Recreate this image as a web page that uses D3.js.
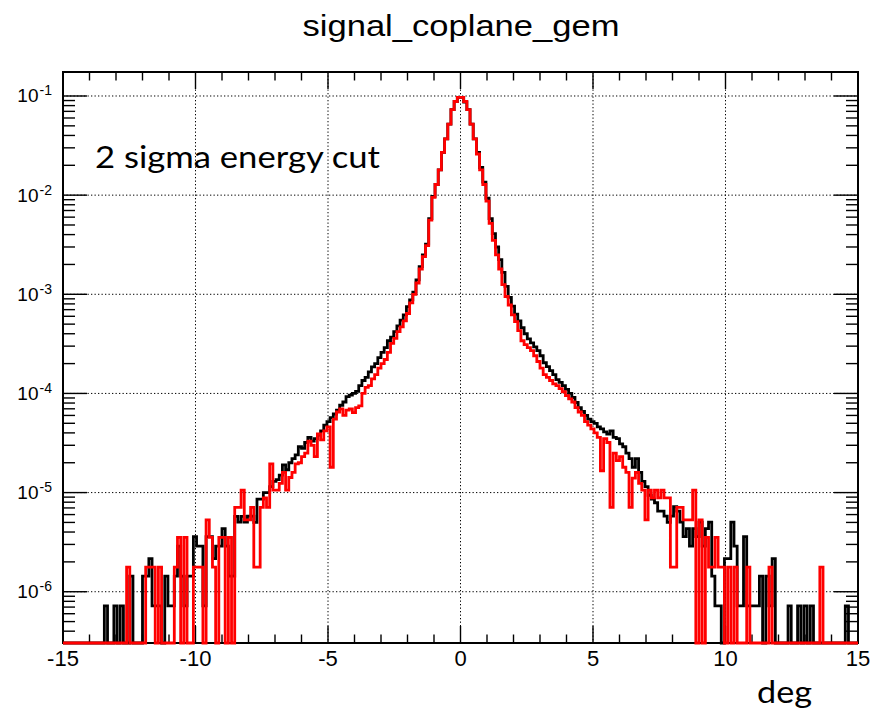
<!DOCTYPE html>
<html><head><meta charset="utf-8">
<script src="https://cdn.jsdelivr.net/npm/d3@7"></script>
<style>body{margin:0;background:#fff}svg{display:block}</style>
</head><body><svg id="c" width="888" height="715"></svg>
<script>
// ---- data ----
const title = "signal_coplane_gem";
const xTitle = "deg";
const note = "2 sigma energy cut";
const xDomain = [-15, 15];
const nBins = 250;
const yDomain = [3.04e-7, 0.1746];
const xMajorTicks = [-15, -10, -5, 0, 5, 10, 15];
const xTickLabels = ["-15", "-10", "-5", "0", "5", "10", "15"];
const xGrid = [-10, -5, 0, 5, 10];
const yDecadeExps = [-6, -5, -4, -3, -2, -1];

const blackValues = [
0,0,0,0,0,0,0,0,0,0,
0,0,0,7.2e-7,0,0,7.2e-7,0,7.2e-7,0,
0,1.44e-6,0,0,0,1.44e-6,1.44e-6,2.16e-6,7.2e-7,7.2e-7,
7.2e-7,0,1.44e-6,7.2e-7,7.2e-7,1.44e-6,2.88e-6,1.44e-6,7.2e-7,1.44e-6,
1.44e-6,3.6e-6,2.88e-6,2.88e-6,7.2e-7,3.6e-6,3.6e-6,2.16e-6,2.88e-6,2.88e-6,
4.32e-6,2.88e-6,1.44e-6,1.44e-6,5.76e-6,5.04e-6,5.76e-6,5.04e-6,5.8e-6,5.8e-6,
5.0e-6,8.6e-6,8.6e-6,1.0e-5,1.0e-5,1.15e-5,1.3e-5,1.35e-5,1.5e-5,1.9e-5,
1.7e-5,2.0e-5,2.2e-5,2.4e-5,2.9e-5,2.8e-5,3.2e-5,3.6e-5,3.3e-5,3.5e-5,
3.8e-5,4.2e-5,4.8e-5,5.2e-5,5.7e-5,6.2e-5,6.8e-5,7.6e-5,8.2e-5,9.3e-5,
9.6e-5,1.0e-4,1.05e-4,1.2e-4,1.35e-4,1.45e-4,1.65e-4,1.85e-4,2.0e-4,2.3e-4,
2.6e-4,2.9e-4,3.4e-4,3.7e-4,4.2e-4,4.8e-4,5.5e-4,6.2e-4,7.5e-4,8.8e-4,
1.05e-3,1.4e-3,1.9e-3,2.5e-3,3.2e-3,5.8e-3,9.7e-3,1.28e-2,1.8e-2,2.7e-2,
3.7e-2,5.2e-2,7.3e-2,8.8e-2,9.7e-2,9.7e-2,8.7e-2,7.3e-2,5.2e-2,3.7e-2,
2.7e-2,1.9e-2,1.35e-2,9.3e-3,5.8e-3,4.1e-3,3.0e-3,2.24e-3,1.66e-3,1.2e-3,
9.3e-4,7.6e-4,6.3e-4,5.4e-4,4.6e-4,4.0e-4,3.55e-4,3.24e-4,2.95e-4,2.7e-4,
2.4e-4,2.04e-4,1.86e-4,1.7e-4,1.55e-4,1.38e-4,1.29e-4,1.2e-4,1.1e-4,1.0e-4,
9.1e-5,8.1e-5,7.2e-5,6.6e-5,6.0e-5,5.5e-5,5.2e-5,5.0e-5,4.6e-5,4.4e-5,
4.1e-5,3.9e-5,4.2e-5,3.6e-5,3.5e-5,3.1e-5,2.9e-5,2.5e-5,2.2e-5,1.8e-5,
2.2e-5,1.6e-5,1.3e-5,1.15e-5,9.4e-6,8.6e-6,7.9e-6,6.5e-6,6.5e-6,5.8e-6,
5.0e-6,5.8e-6,7.2e-6,6.5e-6,5.04e-6,3.6e-6,4.32e-6,2.88e-6,4.32e-6,3.6e-6,
5.04e-6,2.88e-6,4.32e-6,5.04e-6,1.44e-6,7.2e-7,7.2e-7,0,2.16e-6,2.16e-6,
5.04e-6,2.88e-6,7.2e-7,7.2e-7,3.6e-6,7.2e-7,7.2e-7,7.2e-7,7.2e-7,1.44e-6,
0,1.44e-6,7.2e-7,2.16e-6,0,0,0,0,7.2e-7,0,
0,7.2e-7,0,7.2e-7,0,7.2e-7,0,0,0,0,
0,0,0,0,0,0,7.2e-7,0,0,0
];

const redValues = [
0,0,0,0,0,0,0,0,0,0,
0,0,0,0,0,0,0,0,0,0,
1.77e-6,0,0,0,0,0,1.77e-6,1.77e-6,1.77e-6,0,
1.77e-6,0,0,0,0,1.77e-6,3.54e-6,0,3.54e-6,0,
0,1.77e-6,1.77e-6,1.77e-6,0,5.31e-6,3.54e-6,1.77e-6,0,3.54e-6,
3.54e-6,0,3.54e-6,0,7.08e-6,7.08e-6,1.06e-5,5.31e-6,5.31e-6,7.08e-6,
1.77e-6,1.77e-6,7.08e-6,8.85e-6,7.08e-6,1.95e-5,1.06e-5,1.06e-5,1.24e-5,1.6e-5,
1.06e-5,1.42e-5,1.6e-5,1.95e-5,2.0e-5,2.3e-5,2.5e-5,3.3e-5,3.0e-5,2.3e-5,
3.9e-5,3.4e-5,4.2e-5,4.6e-5,1.8e-5,5.5e-5,6.5e-5,7.0e-5,6.0e-5,6.8e-5,
7.0e-5,6.4e-5,7.2e-5,7.5e-5,1.0e-4,1.15e-4,1.2e-4,1.4e-4,1.55e-4,1.8e-4,
2.0e-4,2.2e-4,2.6e-4,3.2e-4,3.6e-4,4.2e-4,4.7e-4,5.4e-4,6.4e-4,8.2e-4,
1.0e-3,1.3e-3,1.8e-3,2.4e-3,3.1e-3,5.6e-3,9.5e-3,1.28e-2,1.8e-2,2.7e-2,
3.7e-2,5.2e-2,7.3e-2,8.8e-2,9.7e-2,9.7e-2,8.8e-2,7.3e-2,5.2e-2,3.7e-2,
2.6e-2,1.8e-2,1.28e-2,8.7e-3,5.2e-3,3.5e-3,2.5e-3,1.8e-3,1.25e-3,9.5e-4,
7.8e-4,6.2e-4,5.3e-4,4.3e-4,3.4e-4,3.1e-4,2.9e-4,2.7e-4,2.4e-4,2.1e-4,
1.8e-4,1.55e-4,1.45e-4,1.35e-4,1.25e-4,1.2e-4,1.12e-4,1.04e-4,9.5e-5,8.8e-5,
8.2e-5,7.2e-5,6.5e-5,6.0e-5,5.2e-5,4.8e-5,4.4e-5,4.0e-5,3.6e-5,1.66e-5,
3.5e-5,3.2e-5,7.1e-6,2.5e-5,2.1e-5,2.3e-5,1.8e-5,1.6e-5,7.1e-6,1.4e-5,
1.6e-5,1.24e-5,1.06e-5,5.31e-6,1.06e-5,8.85e-6,1.06e-5,8.85e-6,1.06e-5,8.85e-6,
8.85e-6,1.77e-6,1.77e-6,7.08e-6,7.08e-6,5.31e-6,5.31e-6,5.31e-6,1.06e-5,0,
5.31e-6,0,3.54e-6,1.77e-6,1.77e-6,3.54e-6,1.77e-6,1.77e-6,0,1.77e-6,
0,1.77e-6,0,0,0,1.77e-6,0,0,0,0,
0,0,1.77e-6,0,0,0,0,0,0,0,
0,0,0,0,0,0,0,0,1.77e-6,0,
0,0,0,0,0,0,0,0,0,0
];

// ---- layout ----
const W = 888, H = 715;
const frame = {left: 63, right: 858, top: 72, bottom: 643};
const svg = d3.select("#c");
svg.append("rect").attr("width", W).attr("height", H).attr("fill", "#fff");

const x = d3.scaleLinear().domain(xDomain).range([frame.left, frame.right]);
const y = d3.scaleLog().domain(yDomain).range([frame.bottom, frame.top]);
const binW = (xDomain[1] - xDomain[0]) / nBins;
const edges = d3.range(nBins + 1).map(i => xDomain[0] + i * binW);

// grid (dotted)
const grid = svg.append("g").attr("stroke", "#000").attr("stroke-width", 1)
  .attr("stroke-dasharray", "1.3,2.2");
xGrid.forEach(v => grid.append("line")
  .attr("x1", x(v)).attr("x2", x(v)).attr("y1", frame.top).attr("y2", frame.bottom));
yDecadeExps.forEach(e => grid.append("line")
  .attr("x1", frame.left).attr("x2", frame.right).attr("y1", y(Math.pow(10, e))).attr("y2", y(Math.pow(10, e))));

// axes ticks
const ax = svg.append("g").attr("stroke", "#000").attr("stroke-width", 1.4);
const xMinor = d3.range(xDomain[0], xDomain[1] + 0.001, 1);
xMinor.forEach(v => {
  const major = xMajorTicks.includes(v);
  const len = major ? 17 : 8.5;
  ax.append("line").attr("x1", x(v)).attr("x2", x(v)).attr("y1", frame.bottom).attr("y2", frame.bottom - len);
  ax.append("line").attr("x1", x(v)).attr("x2", x(v)).attr("y1", frame.top).attr("y2", frame.top + len);
});
const yTicks = [];
for (let e = -7; e <= -1; e++) for (let m = 1; m <= 9; m++) {
  const v = m * Math.pow(10, e);
  if (v >= yDomain[0] && v <= yDomain[1]) yTicks.push({v, major: m === 1});
}
yTicks.forEach(t => {
  const len = t.major ? 24 : 12;
  const yy = y(t.v);
  ax.append("line").attr("x1", frame.left).attr("x2", frame.left + len).attr("y1", yy).attr("y2", yy);
  ax.append("line").attr("x1", frame.right).attr("x2", frame.right - len).attr("y1", yy).attr("y2", yy);
});
svg.append("rect").attr("x", frame.left).attr("y", frame.top)
  .attr("width", frame.right - frame.left).attr("height", frame.bottom - frame.top)
  .attr("fill", "none").attr("stroke", "#000").attr("stroke-width", 2);

// histograms
function histPoints(vals) {
  const pts = [[edges[0], yDomain[0]]];
  vals.forEach((v, i) => {
    const vv = Math.min(Math.max(v, yDomain[0]), yDomain[1]);
    pts.push([edges[i], vv], [edges[i + 1], vv]);
  });
  pts.push([edges[nBins], yDomain[0]]);
  return pts;
}
const line = d3.line().x(d => x(d[0])).y(d => y(d[1]));
svg.append("path").attr("d", line(histPoints(blackValues)))
  .attr("fill", "none").attr("stroke", "#000").attr("stroke-width", 2.8).attr("stroke-linejoin", "miter");
svg.append("path").attr("d", line(histPoints(redValues)))
  .attr("fill", "none").attr("stroke", "#ff0000").attr("stroke-width", 2.8).attr("stroke-linejoin", "miter");

// labels
const helv = "'Liberation Sans', Arial, Helvetica, sans-serif";
xMajorTicks.forEach((v, i) => svg.append("text")
  .attr("x", x(v)).attr("y", 666).attr("text-anchor", "middle")
  .attr("font-family", helv).attr("font-size", 22).text(xTickLabels[i]));
yDecadeExps.forEach(e => {
  const yy = y(Math.pow(10, e));
  svg.append("text").attr("x", 38.5).attr("y", yy + 6.5).attr("text-anchor", "end")
    .attr("font-family", helv).attr("font-size", 19).text("10");
  svg.append("text").attr("x", 39.5).attr("y", yy - 0.5).attr("text-anchor", "start")
    .attr("font-family", helv).attr("font-size", 14).text("-" + (-e));
});
svg.append("text").attr("x", 461).attr("y", 36).attr("text-anchor", "middle")
  .attr("font-family", helv).attr("font-size", 29)
  .attr("textLength", 317).attr("lengthAdjust", "spacingAndGlyphs").text(title);
svg.append("text").attr("x", 95).attr("y", 168)
  .attr("font-family", "Lato, 'Noto Sans', sans-serif").attr("font-size", 31)
  .attr("textLength", 285).attr("lengthAdjust", "spacingAndGlyphs").text(note);
svg.append("text").attr("x", 757).attr("y", 703)
  .attr("font-family", "Lato, 'Noto Sans', sans-serif").attr("font-size", 31)
  .attr("textLength", 55).attr("lengthAdjust", "spacingAndGlyphs").text(xTitle);
</script>
</body></html>
